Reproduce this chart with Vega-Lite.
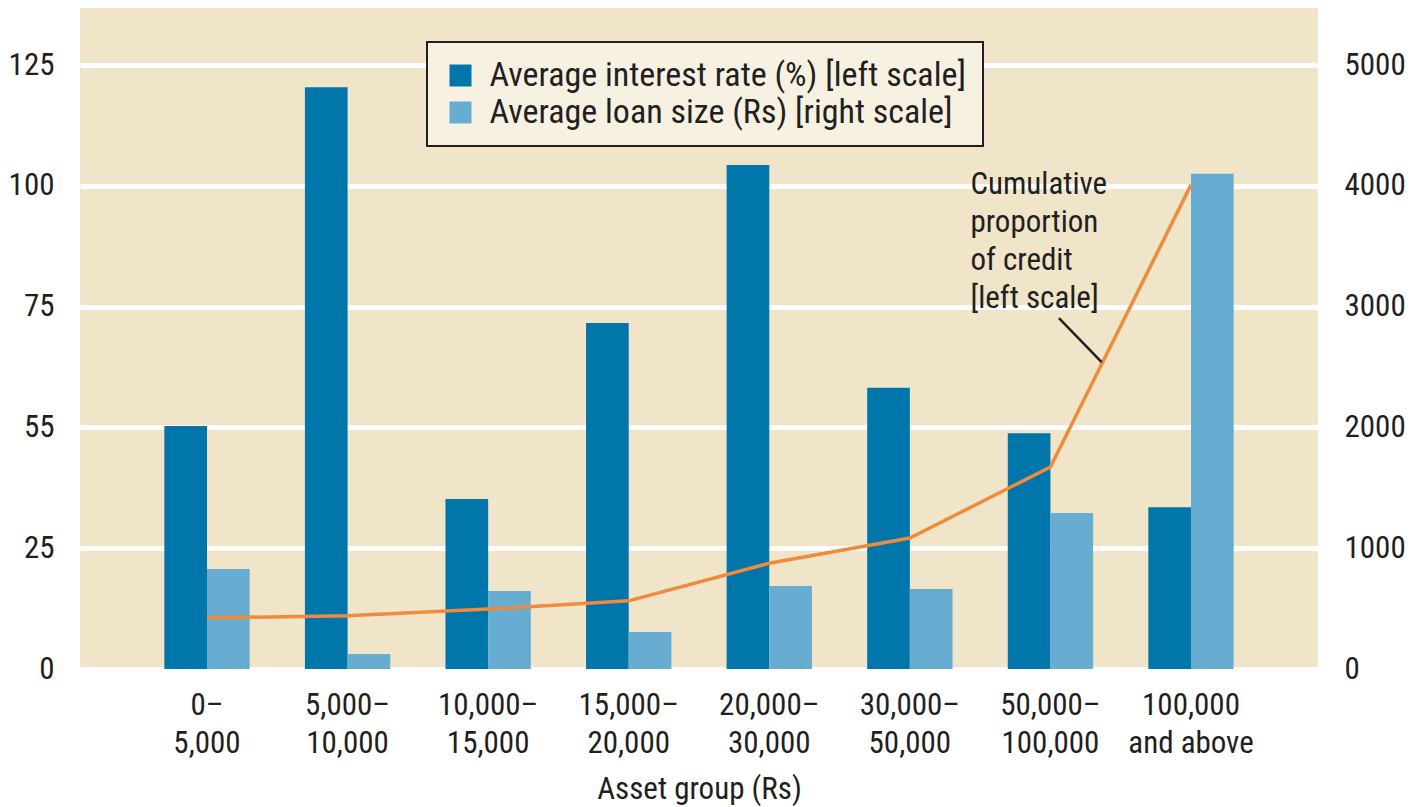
{
  "$schema": "https://vega.github.io/schema/vega-lite/v6.json",
  "width": 1238,
  "height": 661,
  "autosize": {"type": "none"},
  "padding": {"left": 80, "top": 8, "right": 98, "bottom": 138},
  "background": "white",
  "config": {
    "view": {"fill": "#f0e5c8", "stroke": null},
    "font": "Roboto Condensed, Noto Sans Condensed, Open Sans Condensed, Liberation Sans Narrow, DejaVu Sans Condensed, sans-serif",
    "axis": {
      "labelFont": "Roboto Condensed, Noto Sans Condensed, Open Sans Condensed, Liberation Sans Narrow, DejaVu Sans Condensed, sans-serif",
      "labelFontSize": 31,
      "labelColor": "#231f20",
      "titleFont": "Roboto Condensed, Noto Sans Condensed, Open Sans Condensed, Liberation Sans Narrow, DejaVu Sans Condensed, sans-serif",
      "titleFontSize": 31,
      "titleFontWeight": "normal",
      "titleColor": "#231f20",
      "domain": false,
      "ticks": false,
      "tickSize": 0
    },
    "legend": {
      "orient": "none",
      "legendX": 347,
      "legendY": 34,
      "fillColor": "#f7f1e2",
      "strokeColor": "#231f20",
      "strokeWidth": 2,
      "padding": 16.5,
      "symbolType": "square",
      "symbolSize": 484,
      "symbolStrokeWidth": 0,
      "labelFont": "Roboto Condensed, Noto Sans Condensed, Open Sans Condensed, Liberation Sans Narrow, DejaVu Sans Condensed, sans-serif",
      "labelFontSize": 34,
      "labelColor": "#231f20",
      "labelOffset": 12,
      "rowPadding": 3,
      "labelLimit": 0
    }
  },
  "data": {
    "values": [
      {"group": "0–\n5,000", "rate": 50.3, "loan": 828, "cum": 10.6},
      {"group": "5,000–\n10,000", "rate": 120.4, "loan": 124, "cum": 11.0},
      {"group": "10,000–\n15,000", "rate": 35.2, "loan": 646, "cum": 12.4},
      {"group": "15,000–\n20,000", "rate": 71.6, "loan": 306, "cum": 14.1},
      {"group": "20,000–\n30,000", "rate": 104.3, "loan": 687, "cum": 21.9},
      {"group": "30,000–\n50,000", "rate": 58.2, "loan": 662, "cum": 27.1},
      {"group": "50,000–\n100,000", "rate": 48.8, "loan": 1291, "cum": 41.8},
      {"group": "100,000\nand above", "rate": 33.5, "loan": 4100, "cum": 100.2}
    ]
  },
  "layer": [
    {
      "mark": {"type": "bar"},
      "encoding": {
        "x": {
          "field": "group",
          "type": "nominal",
          "sort": null,
          "scale": {
            "domain": ["0–\n5,000", "5,000–\n10,000", "10,000–\n15,000", "15,000–\n20,000", "20,000–\n30,000", "30,000–\n50,000", "50,000–\n100,000", "100,000\nand above"],
            "paddingInner": 0.393,
            "paddingOuter": 0.6
          },
          "axis": {
            "title": "Asset group (Rs)",
            "labelAngle": 0,
            "labelExpr": "split(datum.label, '\\n')",
            "labelBaseline": "top",
            "labelLineHeight": 38,
            "labelPadding": 21,
            "titlePadding": 16,
            "grid": false
          }
        },
        "xOffset": {
          "datum": "Average interest rate (%) [left scale]",
          "scale": {"domain": ["Average interest rate (%) [left scale]", "Average loan size (Rs) [right scale]"], "paddingInner": 0, "paddingOuter": 0}
        },
        "y": {
          "field": "rate",
          "type": "quantitative",
          "scale": {"domain": [0, 136.8], "nice": false},
          "axis": {
            "orient": "left",
            "title": null,
            "values": [0, 25, 50, 75, 100, 125],
            "labelExpr": "datum.value == 50 ? '55' : datum.label",
            "labelPadding": 26,
            "grid": true,
            "gridColor": "#ffffff",
            "gridWidth": 5
          }
        },
        "color": {
          "datum": "Average interest rate (%) [left scale]",
          "type": "nominal",
          "scale": {"domain": ["Average interest rate (%) [left scale]", "Average loan size (Rs) [right scale]"], "range": ["#0076aa", "#66add1"]},
          "legend": {"title": null}
        }
      }
    },
    {
      "mark": {"type": "bar"},
      "encoding": {
        "x": {"field": "group", "type": "nominal", "sort": null},
        "xOffset": {"datum": "Average loan size (Rs) [right scale]"},
        "y": {
          "field": "loan",
          "type": "quantitative",
          "scale": {"domain": [0, 5472], "nice": false},
          "axis": {
            "orient": "right",
            "title": null,
            "values": [0, 1000, 2000, 3000, 4000, 5000],
            "format": "d",
            "labelPadding": 26,
            "grid": false
          }
        },
        "color": {"datum": "Average loan size (Rs) [right scale]", "type": "nominal"}
      }
    },
    {
      "mark": {"type": "line", "color": "#f08a3c", "strokeWidth": 3.5},
      "encoding": {
        "x": {"field": "group", "type": "nominal", "sort": null},
        "y": {"field": "cum", "type": "quantitative", "scale": {"domain": [0, 136.8], "nice": false}, "axis": null}
      }
    },
    {
      "data": {"values": [{"note": "annotation"}]},
      "mark": {
        "type": "text",
        "text": ["Cumulative", "proportion", "of credit", "[left scale]"],
        "align": "left",
        "baseline": "top",
        "fontSize": 31,
        "lineHeight": 38,
        "color": "#231f20",
        "font": "Roboto Condensed, Noto Sans Condensed, Open Sans Condensed, Liberation Sans Narrow, DejaVu Sans Condensed, sans-serif",
        "dx": -80
      },
      "encoding": {
        "x": {"datum": "50,000–\n100,000", "type": "nominal"},
        "y": {"datum": 103.3, "type": "quantitative", "scale": {"domain": [0, 136.8], "nice": false}, "axis": null}
      }
    },
    {
      "data": {"values": [{"note": "leader"}]},
      "mark": {"type": "rule", "color": "#231f20", "strokeWidth": 2.5},
      "encoding": {
        "x": {"datum": "50,000–\n100,000", "type": "nominal", "bandPosition": 0.6},
        "x2": {"datum": "50,000–\n100,000", "bandPosition": 1.1},
        "y": {"datum": 72.6, "type": "quantitative", "scale": {"domain": [0, 136.8], "nice": false}, "axis": null},
        "y2": {"datum": 63.5}
      }
    }
  ],
  "resolve": {"scale": {"y": "independent"}}
}
